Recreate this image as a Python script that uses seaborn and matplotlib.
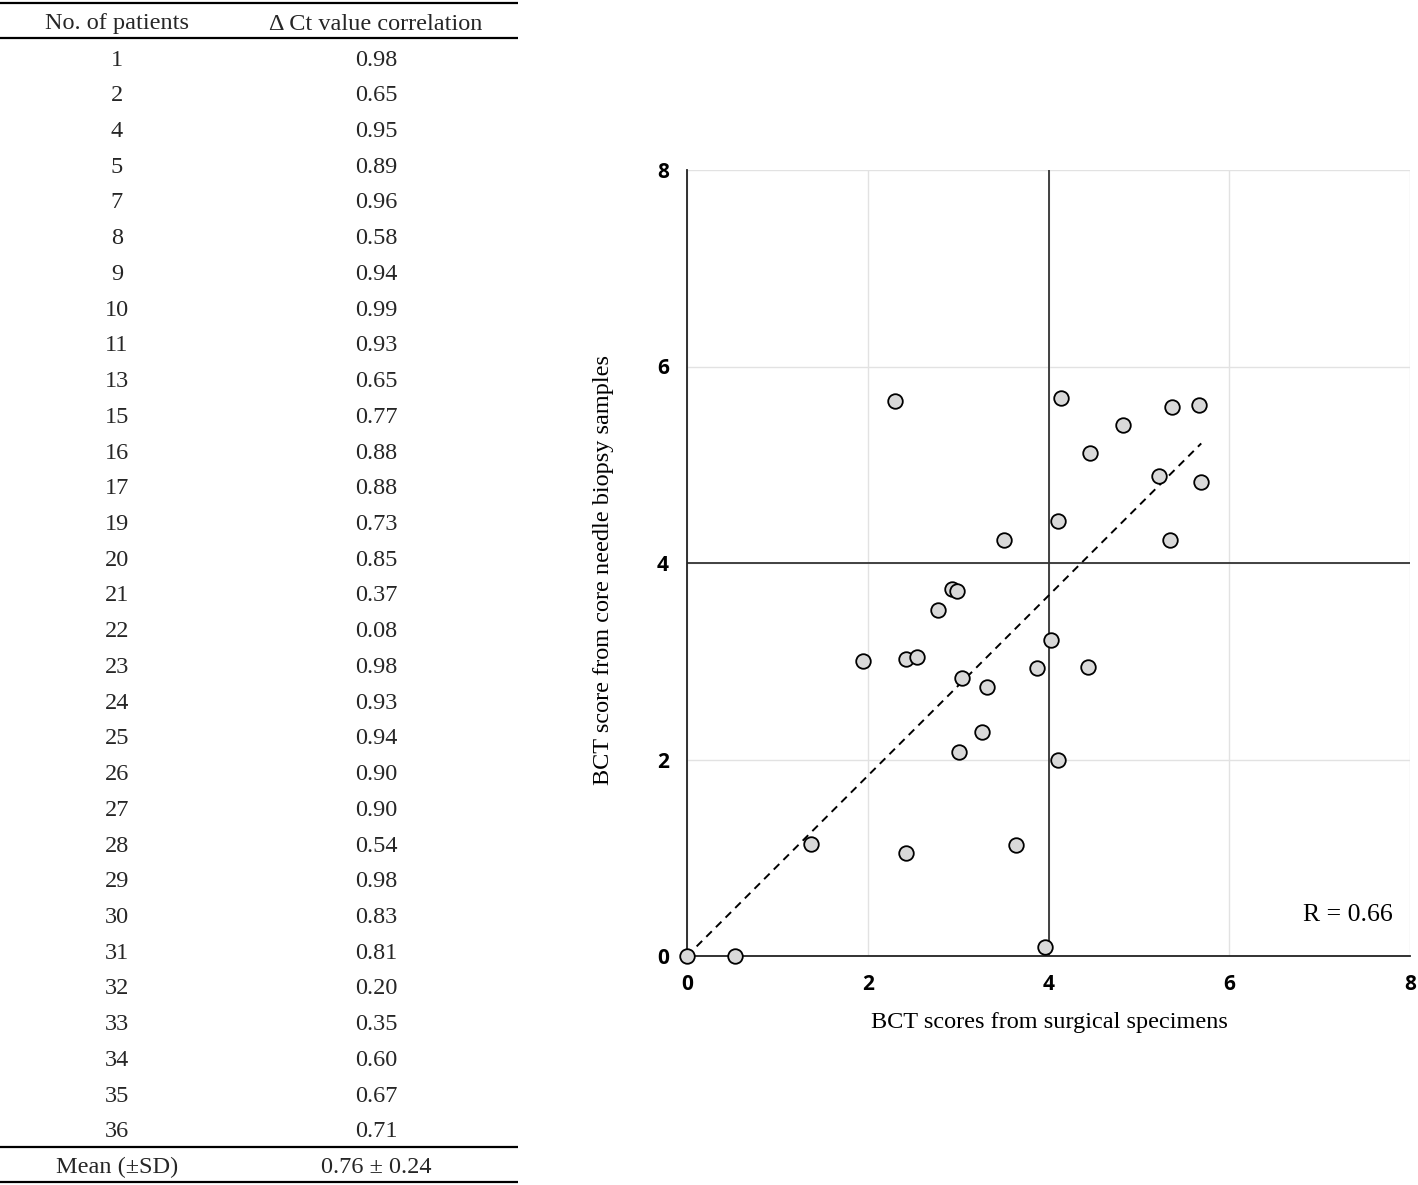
import numpy as np
import pandas as pd
import matplotlib
matplotlib.use("Agg")
import matplotlib.pyplot as plt
import seaborn as sns

# ---------------- data ----------------
patients = [1, 2, 4, 5, 7, 8, 9, 10, 11, 13, 15, 16, 17, 19, 20, 21, 22, 23, 24,
            25, 26, 27, 28, 29, 30, 31, 32, 33, 34, 35, 36]
ct_corr = [0.98, 0.65, 0.95, 0.89, 0.96, 0.58, 0.94, 0.99, 0.93, 0.65, 0.77, 0.88,
           0.88, 0.73, 0.85, 0.37, 0.08, 0.98, 0.93, 0.94, 0.90, 0.90, 0.54, 0.98,
           0.83, 0.81, 0.20, 0.35, 0.60, 0.67, 0.71]
table_header = ["No. of patients", "\u0394 Ct value correlation"]
summary_row = ["Mean (\u00b1SD)", "0.76 \u00b1 0.24"]

surgical = [0.00, 0.53, 1.37, 1.95, 2.30, 2.42, 2.54, 2.42, 2.78, 2.93, 2.99, 3.04,
            3.01, 3.26, 3.32, 3.51, 3.64, 3.87, 3.96, 4.03, 4.10, 4.10, 4.14, 4.44,
            4.46, 4.82, 5.22, 5.34, 5.37, 5.66, 5.69]
biopsy = [0.00, 0.00, 1.14, 3.00, 5.65, 3.02, 3.04, 1.05, 3.52, 3.74, 3.72, 2.83,
          2.08, 2.28, 2.74, 4.23, 1.13, 2.93, 0.09, 3.22, 2.00, 4.43, 5.68, 2.94,
          5.12, 5.40, 4.89, 4.23, 5.59, 5.61, 4.82]
axis_ticks = [0, 2, 4, 6, 8]
cutoff = 4
r_text = "R = 0.66"
xlabel = "BCT scores from surgical specimens"
ylabel = "BCT score from core needle biopsy samples"

df = pd.DataFrame({"surgical": surgical, "biopsy": biopsy})

# ---------------- figure ----------------
sns.set_theme(style="white")
plt.rcParams["font.family"] = ["Liberation Serif", "DejaVu Serif"]

W, H = 1418, 1185
fig = plt.figure(figsize=(W / 100, H / 100), dpi=100)

# ---- table (left) ----
tw = 518
axt = fig.add_axes([0, 0, tw / W, 1])
axt.set_xlim(0, tw)
axt.set_ylim(H, 0)
axt.axis("off")
cx1, cx2 = 117, 376
fs = 17.5
off = 3
axt.text(cx1, 21 + off, table_header[0], ha="center", va="center", fontsize=fs)
axt.text(cx2, 21 + off, table_header[1], ha="center", va="center", fontsize=fs)
y0, dy = 57, 35.73
for i, (p, c) in enumerate(zip(patients, ct_corr)):
    y = y0 + i * dy + off
    axt.text(cx1, y, str(p), ha="center", va="center", fontsize=fs)
    axt.text(cx2, y, f"{c:.2f}", ha="center", va="center", fontsize=fs)
ys = y0 + len(patients) * dy + off
axt.text(cx1, ys, summary_row[0], ha="center", va="center", fontsize=fs)
axt.text(cx2, ys, summary_row[1], ha="center", va="center", fontsize=fs)
for yl in [3, 38, 1147, 1182]:
    axt.plot([0, tw], [yl, yl], color="black", lw=1.6, solid_capstyle="butt")

# ---- scatter (right) ----
x0p, x1p, ytp, ybp = 687, 1410, 170, 956
ax = fig.add_axes([x0p / W, 1 - ybp / H, (x1p - x0p) / W, (ybp - ytp) / H])
ax.set_xlim(0, 8)
ax.set_ylim(0, 8)
ax.set_xticks(axis_ticks)
ax.set_yticks(axis_ticks)
ax.grid(True, color="#e2e2e2", lw=1.0)
ax.set_axisbelow(True)
for s in ["top", "right"]:
    ax.spines[s].set_visible(False)
for s in ["left", "bottom"]:
    ax.spines[s].set_color("#222222")
    ax.spines[s].set_linewidth(1.3)

ax.axvline(cutoff, color="#333333", lw=1.3, zorder=1.5)
ax.axhline(cutoff, color="#333333", lw=1.3, zorder=1.5)

# regression line through origin
xs = np.array(surgical)
ysv = np.array(biopsy)
slope = (xs * ysv).sum() / (xs * xs).sum()
xfit = np.array([0, xs.max()])
sns.lineplot(x=xfit, y=slope * xfit, ax=ax, color="black", lw=1.4,
             linestyle=(0, (4, 3)), zorder=2)

sns.scatterplot(data=df, x="surgical", y="biopsy", ax=ax, s=110,
                color="#d9d9d9", edgecolor="black", linewidth=1.3, zorder=3,
                clip_on=False)

ax.tick_params(axis="both", length=0)
ax.tick_params(axis="y", pad=13)
ax.tick_params(axis="x", pad=13)
for lab in ax.get_xticklabels() + ax.get_yticklabels():
    lab.set_fontfamily("Open Sans")
    lab.set_fontweight("bold")
    lab.set_fontsize(15)
    lab.set_color("black")

ax.set_xlabel(xlabel, fontsize=17.5, color="black")
ax.set_ylabel(ylabel, fontsize=17.5, color="black")
ax.xaxis.set_label_coords(0.5007, (ybp - 1012) / (ybp - ytp))
ax.yaxis.label.set_va("center")
ax.yaxis.set_label_coords((604 - x0p) / (x1p - x0p), (ybp - 570) / (ybp - ytp))

ax.text((1348 - x0p) / (x1p - x0p), (ybp - 915) / (ybp - ytp), r_text,
        transform=ax.transAxes, ha="center", va="center", fontsize=18.5,
        color="black")

fig.savefig("out.png", dpi=100)
